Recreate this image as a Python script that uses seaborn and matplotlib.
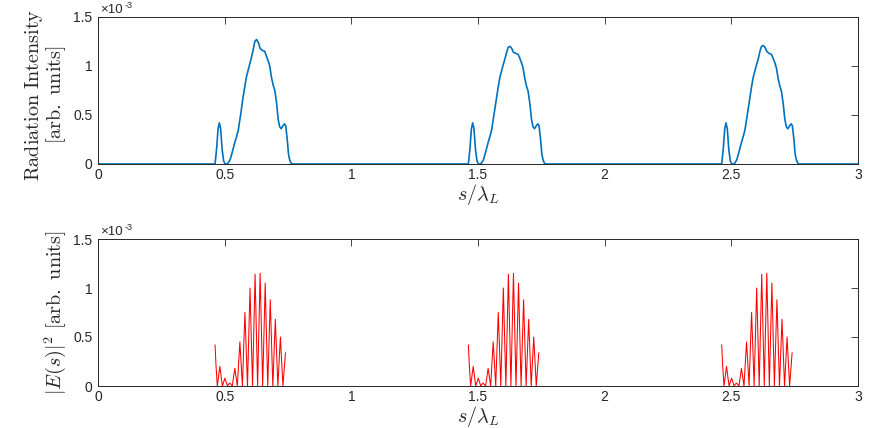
import numpy as np
import pandas as pd
import matplotlib
matplotlib.use("Agg")
import matplotlib.pyplot as plt
import seaborn as sns

# ---------------- data (intensity in units of 1e-3) ----------------
pulse_starts = [0.0, 1.0, 2.0]

# top panel: radiation intensity profile within one period (s offset, value)
top_s = [0.455, 0.462, 0.468, 0.474, 0.479, 0.484, 0.490, 0.496, 0.502, 0.508,
         0.514, 0.521, 0.530, 0.540, 0.547, 0.554, 0.564, 0.573, 0.580, 0.586,
         0.596, 0.606, 0.613, 0.619, 0.626, 0.633, 0.640, 0.648, 0.658, 0.665,
         0.672, 0.678, 0.685, 0.692, 0.698, 0.705, 0.711, 0.717, 0.723, 0.730,
         0.736, 0.741, 0.747, 0.752, 0.757, 0.762, 0.767, 0.780]
top_vals_1 = [0.0, 0.0, 0.15, 0.36, 0.42, 0.36, 0.15, 0.03, 0.0, 0.0,
              0.01, 0.04, 0.12, 0.22, 0.28, 0.35, 0.52, 0.69, 0.80, 0.89,
              0.99, 1.09, 1.17, 1.25, 1.27, 1.24, 1.18, 1.16, 1.15, 1.10,
              1.05, 1.00, 0.88, 0.80, 0.75, 0.62, 0.46, 0.38, 0.36, 0.39,
              0.41, 0.39, 0.25, 0.10, 0.04, 0.01, 0.0, 0.0]
top_vals_2 = [0.0, 0.0, 0.15, 0.36, 0.42, 0.36, 0.15, 0.03, 0.0, 0.0,
              0.01, 0.04, 0.12, 0.22, 0.28, 0.35, 0.52, 0.68, 0.79, 0.88,
              0.98, 1.07, 1.14, 1.19, 1.20, 1.18, 1.14, 1.13, 1.12, 1.08,
              1.03, 0.98, 0.87, 0.79, 0.74, 0.61, 0.46, 0.38, 0.36, 0.39,
              0.41, 0.39, 0.25, 0.10, 0.04, 0.01, 0.0, 0.0]
top_vals_3 = [0.0, 0.0, 0.15, 0.36, 0.42, 0.36, 0.15, 0.03, 0.0, 0.0,
              0.01, 0.04, 0.12, 0.22, 0.28, 0.35, 0.52, 0.68, 0.79, 0.88,
              0.98, 1.07, 1.15, 1.20, 1.21, 1.19, 1.15, 1.13, 1.12, 1.08,
              1.03, 0.98, 0.87, 0.79, 0.74, 0.61, 0.46, 0.38, 0.36, 0.39,
              0.41, 0.39, 0.25, 0.10, 0.04, 0.01, 0.0, 0.0]

# bottom panel: |E(s)|^2 fringes within one period (s offset, value)
bot_s = [0.462, 0.466, 0.471, 0.476, 0.481, 0.486, 0.491, 0.496, 0.501, 0.506,
         0.511, 0.515, 0.520, 0.525, 0.530, 0.535, 0.540, 0.545, 0.550, 0.555,
         0.560, 0.565, 0.570, 0.575, 0.580, 0.585, 0.590, 0.595, 0.600, 0.605,
         0.610, 0.615, 0.620, 0.625, 0.630, 0.635, 0.640, 0.645, 0.650, 0.655,
         0.660, 0.665, 0.670, 0.675, 0.680, 0.685, 0.690, 0.695, 0.700, 0.705,
         0.710, 0.715, 0.720, 0.725, 0.730, 0.735, 0.740]
bot_vals = [0.42, 0.20, 0.0, 0.10, 0.20, 0.10, 0.0, 0.04, 0.08, 0.04,
            0.0, 0.015, 0.03, 0.015, 0.0, 0.09, 0.18, 0.09, 0.0, 0.23,
            0.45, 0.23, 0.0, 0.38, 0.75, 0.38, 0.0, 0.50, 1.00, 0.50,
            0.0, 0.57, 1.14, 0.57, 0.0, 0.58, 1.15, 0.58, 0.0, 0.52,
            1.05, 0.52, 0.0, 0.44, 0.88, 0.44, 0.0, 0.34, 0.68, 0.34,
            0.0, 0.25, 0.50, 0.25, 0.0, 0.17, 0.34]

x_ticks = [0, 0.5, 1, 1.5, 2, 2.5, 3]
x_ticklabels = ["0", "0.5", "1", "1.5", "2", "2.5", "3"]
y_ticks = [0, 0.5, 1, 1.5]
y_ticklabels = ["0", "0.5", "1", "1.5"]

# ---------------- tables ----------------
top_rows = [(0.0, 0.0)]
for start, vals in zip(pulse_starts, [top_vals_1, top_vals_2, top_vals_3]):
    top_rows += [(start + s, v) for s, v in zip(top_s, vals)]
top_rows.append((3.0, 0.0))
top_df = pd.DataFrame(top_rows, columns=["s", "I"])

bot_rows = []
for k, start in enumerate(pulse_starts):
    bot_rows += [(k, start + s, v) for s, v in zip(bot_s, bot_vals)]
bot_df = pd.DataFrame(bot_rows, columns=["pulse", "s", "E2"])

# ---------------- style ----------------
sns.set_style("white")
plt.rcParams["font.family"] = ["Liberation Sans", "DejaVu Sans"]
plt.rcParams["mathtext.fontset"] = "cm"

axc = "#262626"
fig = plt.figure(figsize=(8.72, 4.28), dpi=100)
W, H = 872, 428
ax1 = fig.add_axes([98 / W, 1 - 164 / H, 760 / W, 147 / H])
ax2 = fig.add_axes([98 / W, 1 - 386 / H, 760 / W, 147 / H])

sns.lineplot(data=top_df, x="s", y="I", ax=ax1, color="#0072BD",
             linewidth=1.2, sort=False, estimator=None)
sns.lineplot(data=bot_df, x="s", y="E2", units="pulse", ax=ax2, color="#FF0000",
             linewidth=0.75, sort=False, estimator=None)

for ax in (ax1, ax2):
    ax.set_xlim(0, 3)
    ax.set_ylim(0, 1.5)
    ax.set_xticks(x_ticks)
    ax.set_xticklabels(x_ticklabels)
    ax.set_yticks(y_ticks)
    ax.set_yticklabels(y_ticklabels)
    ax.tick_params(direction="in", length=5, width=0.6, colors=axc,
                   labelsize=10, top=True, right=True, pad=4)
    ax.tick_params(axis="x", pad=3)
    for sp in ax.spines.values():
        sp.set_visible(True)
        sp.set_color(axc)
        sp.set_linewidth(0.7)
    ax.set_xlabel(r"$s/\lambda_L$", fontsize=14.5, labelpad=0)
    ax.annotate("×10", xy=(0, 1), xycoords="axes fraction", xytext=(1.5, 0.5),
                textcoords="offset points", fontsize=9.5, va="bottom", ha="left",
                color=axc)
    ax.annotate("-3", xy=(0, 1), xycoords="axes fraction", xytext=(19.5, 4.8),
                textcoords="offset points", fontsize=6.5, va="bottom", ha="left",
                color=axc)

ax1.set_ylabel("$\\mathrm{Radiation\\ Intensity}$\n$\\mathrm{[arb.\\ units]}$",
               fontsize=14.5, linespacing=1.0)
ax2.set_ylabel(r"$|E(s)|^2\ \mathrm{[arb.\ units]}$", fontsize=14.5)
ax1.yaxis.set_label_coords(-0.039, 0.47)
ax2.yaxis.set_label_coords(-0.039, 0.5)

fig.savefig("out.png", dpi=100)
